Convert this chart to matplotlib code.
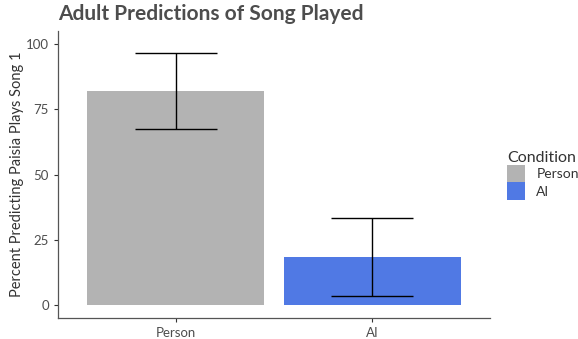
import matplotlib
matplotlib.use('Agg')
import matplotlib.pyplot as plt
import matplotlib.patches as mpatches

# condition means and error half-widths (percent)
conditions = ['Person', 'AI']
means = [82.0, 18.4]
errors = [14.5, 15.0]
colors = ['#b3b3b3', '#5079e4']

plt.rcParams['font.family'] = ['Lato', 'DejaVu Sans']

fig = plt.figure(figsize=(5.78, 3.39), dpi=100)
ax = fig.add_axes([0.1003, 0.061, 0.7475, 0.8475])

x = list(range(1, len(conditions) + 1))
ax.bar(x, means, width=0.9, color=colors, zorder=2)
ax.errorbar(x, means, yerr=errors, fmt='none', ecolor='black',
            elinewidth=1.0, capsize=29.5, capthick=1.0, zorder=3)

ax.set_xlim(0.4, 2.6)
ax.set_ylim(-5, 105)
ax.set_xticks(x)
ax.set_xticklabels(conditions)
ax.set_yticks([0, 25, 50, 75, 100])

for side in ['top', 'right']:
    ax.spines[side].set_visible(False)
for side in ['left', 'bottom']:
    ax.spines[side].set_color('#555555')
    ax.spines[side].set_linewidth(0.9)
ax.tick_params(colors='#333333', labelcolor='#4d4d4d', labelsize=9.5,
               length=3, width=0.8)

ax.set_ylabel('Percent Predicting Paisia Plays Song 1', fontsize=10.5,
              color='#333333')
ax.yaxis.set_label_coords(-0.078, 0.5)
fig.text(0.1003, 0.93, 'Adult Predictions of Song Played', fontsize=15,
         fontweight='bold', color='#4d4d4d', ha='left', va='bottom')

handles = [mpatches.Patch(facecolor=c, edgecolor='none', label=l)
           for c, l in zip(colors, conditions)]
leg = fig.legend(handles=handles, title='Condition', loc='upper left',
                 bbox_to_anchor=(0.868, 0.572), frameon=False, fontsize=10,
                 title_fontsize=11.5, handlelength=1.3, handleheight=1.6,
                 handletextpad=0.8, labelspacing=0.0, borderaxespad=0)
leg._legend_box.align = 'left'
for t in leg.get_texts():
    t.set_color('#333333')
leg.get_title().set_color('#333333')

fig.savefig('out.png', dpi=100)
